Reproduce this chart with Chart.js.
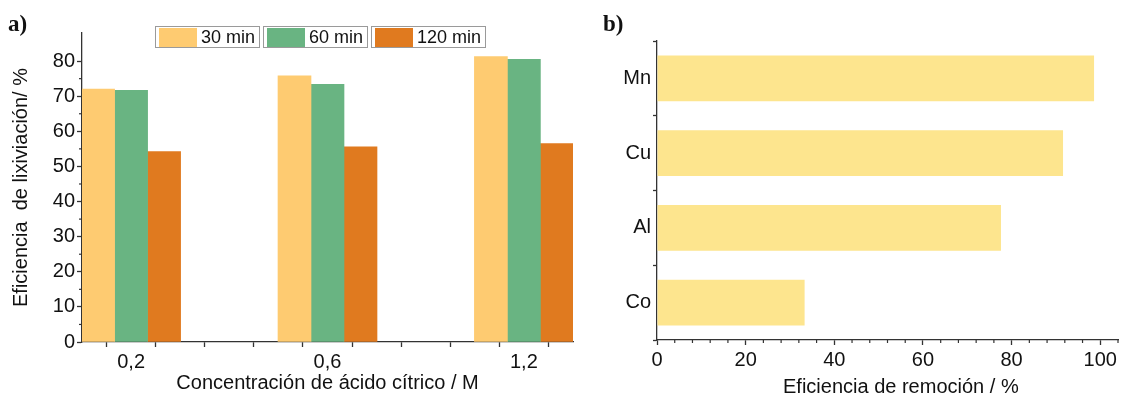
<!DOCTYPE html>
<html>
<head>
<meta charset="utf-8">
<title>Lixiviación y remoción</title>
<script src="https://cdn.jsdelivr.net/npm/chart.js@4.4.1/dist/chart.umd.min.js"></script>
<style>
  html, body { margin: 0; padding: 0; background: #fff; }
  #wrap { position: relative; width: 1123px; height: 396px; overflow: hidden;
          font-family: 'Liberation Sans', Arial, sans-serif; }
  .panel { position: absolute; top: 0; height: 396px; }
  #pa { left: 0; width: 590px; }
  #pb { left: 590px; width: 533px; }
  .tag { position: absolute; top: 11px; line-height: 1; color: #111;
         font: bold 23px 'Liberation Serif', 'Times New Roman', serif; }
  #legend { position: absolute; left: 155px; top: 26px; display: flex; }
  .item { display: flex; align-items: center; height: 20px; border: 1px solid #9a9a9a;
          padding: 0 4px 0 3px; margin-right: 3px; font-size: 18px; color: #111; }
  .sw { width: 38px; height: 19px; margin-right: 4px; }
  #titleB { position: absolute; left: 783px; top: 374px; font-size: 20px; color: #111;
            white-space: nowrap; line-height: 24px; }
</style>
</head>
<body>
<div id="wrap">
  <div class="panel" id="pa"><canvas id="chartA"></canvas></div>
  <div class="panel" id="pb"><canvas id="chartB"></canvas></div>
  <div class="tag" style="left:8px">a)</div>
  <div class="tag" style="left:603px">b)</div>
  <div id="legend"></div>
  <div id="titleB">Eficiencia de remoción / %</div>
</div>
<script>
// panel a: leaching efficiency
var concLabels = ['0,2', '0,6', '1,2'];
var seriesNames = ['30 min', '60 min', '120 min'];
var v30 = [72.0, 75.8, 81.3];
var v60 = [71.7, 73.4, 80.5];
var v120 = [54.2, 55.6, 56.5];
var seriesColors = ['#fecb71', '#69b482', '#e07a1f'];

// panel b: removal efficiency
var metals = ['Mn', 'Cu', 'Al', 'Co'];
var removal = [98.6, 91.6, 77.6, 33.3];
var removalColor = '#fde58e';

var txt = '#111';
var axisCol = '#333';
Chart.defaults.font.family = "'Liberation Sans', Arial, sans-serif";
Chart.defaults.font.size = 20;
Chart.defaults.color = txt;

// short ticks between the labelled ones
var minorTicks = {
  id: 'minorTicks',
  afterDraw: function(chart, args, opts) {
    var ctx = chart.ctx;
    ctx.save();
    ctx.strokeStyle = axisCol;
    ctx.lineWidth = 1.2;
    (opts.list || []).forEach(function(m) {
      var s = chart.scales[m.axis];
      s.ticks.forEach(function(t) {
        if (Math.abs(t.value % m.major) < 1e-9) return;
        var p = s.getPixelForValue(t.value);
        ctx.beginPath();
        if (s.isHorizontal()) { ctx.moveTo(p, s.top); ctx.lineTo(p, s.top + m.len); }
        else { ctx.moveTo(s.right, p); ctx.lineTo(s.right - m.len, p); }
        ctx.stroke();
      });
    });
    ctx.restore();
  }
};

// legend
var leg = document.getElementById('legend');
seriesNames.forEach(function(n, k) {
  var it = document.createElement('div');
  it.className = 'item';
  it.innerHTML = '<span class="sw" style="background:' + seriesColors[k] + '"></span>' + n;
  leg.appendChild(it);
});

var seriesVals = [v30, v60, v120];

var chartA = new Chart(document.getElementById('chartA'), {
  type: 'bar',
  data: {
    datasets: seriesVals.map(function(vals, k) {
      return {
        label: seriesNames[k],
        data: vals.map(function(v, i) { return {x: i, y: v}; }),
        backgroundColor: seriesColors[k],
        borderWidth: 0,
        barThickness: 33
      };
    })
  },
  options: {
    responsive: true,
    maintainAspectRatio: false,
    animation: false,
    layout: {padding: {top: 33, right: 17, left: 0, bottom: 0}},
    plugins: {
      legend: {display: false},
      tooltip: {enabled: false},
      minorTicks: {list: [{axis: 'y', major: 10, len: 3}]}
    },
    scales: {
      x: {
        type: 'linear', min: -0.25, max: 2.25, offset: false,
        afterFit: function(s) { s.height = 54; },
        border: {color: axisCol, width: 1.3},
        grid: {drawOnChartArea: false, tickLength: 5, tickColor: axisCol, tickWidth: 1.3},
        ticks: {
          stepSize: 0.25, autoSkip: false, maxRotation: 0, padding: 3,
          callback: function(v) { return Number.isInteger(v) ? concLabels[v] : ''; }
        },
        title: {display: true, text: 'Concentración de ácido cítrico / M', padding: {top: 0, bottom: 1}}
      },
      y: {
        min: 0, max: 88,
        afterFit: function(s) { s.width = 82; },
        afterBuildTicks: function(s) { s.ticks = s.ticks.filter(function(t) { return t.value % 5 === 0; }); },
        border: {color: axisCol, width: 1.3},
        grid: {
          drawOnChartArea: false, tickLength: 5, tickWidth: 1.3,
          tickColor: function(c) { return c.tick && c.tick.value % 10 === 0 ? axisCol : 'transparent'; }
        },
        ticks: {
          stepSize: 5, autoSkip: false, padding: 2,
          callback: function(v) { return v % 10 === 0 ? v : ''; }
        },
        title: {display: true, text: 'Eficiencia  de lixiviación/ %', padding: {top: 9, bottom: 0}}
      }
    }
  },
  plugins: [minorTicks]
});

var chartB = new Chart(document.getElementById('chartB'), {
  type: 'bar',
  data: {
    labels: metals,
    datasets: [{
      label: 'Eficiencia de remoción',
      data: removal,
      backgroundColor: removalColor,
      borderWidth: 0,
      categoryPercentage: 0.61,
      barPercentage: 1
    }]
  },
  options: {
    indexAxis: 'y',
    responsive: true,
    maintainAspectRatio: false,
    animation: false,
    layout: {padding: {top: 41, right: 5, left: 0, bottom: 0}},
    plugins: {
      legend: {display: false},
      tooltip: {enabled: false},
      minorTicks: {list: [{axis: 'x', major: 20, len: 3}]}
    },
    scales: {
      x: {
        min: 0, max: 104,
        afterFit: function(s) { s.height = 56; },
        border: {color: axisCol, width: 1.3},
        grid: {
          drawOnChartArea: false, tickLength: 5, tickWidth: 1.3,
          tickColor: function(c) { return c.tick && c.tick.value % 20 === 0 ? axisCol : 'transparent'; }
        },
        ticks: {
          stepSize: 4, autoSkip: false, maxRotation: 0, padding: 3,
          callback: function(v) { return v % 20 === 0 ? v : ''; }
        }
      },
      y: {
        afterFit: function(s) { s.width = 67; },
        border: {color: axisCol, width: 1.3},
        grid: {drawOnChartArea: false, offset: true, tickLength: 4, tickColor: axisCol, tickWidth: 1.3},
        ticks: {padding: 2}
      }
    }
  },
  plugins: [minorTicks]
});
</script>
</body>
</html>
